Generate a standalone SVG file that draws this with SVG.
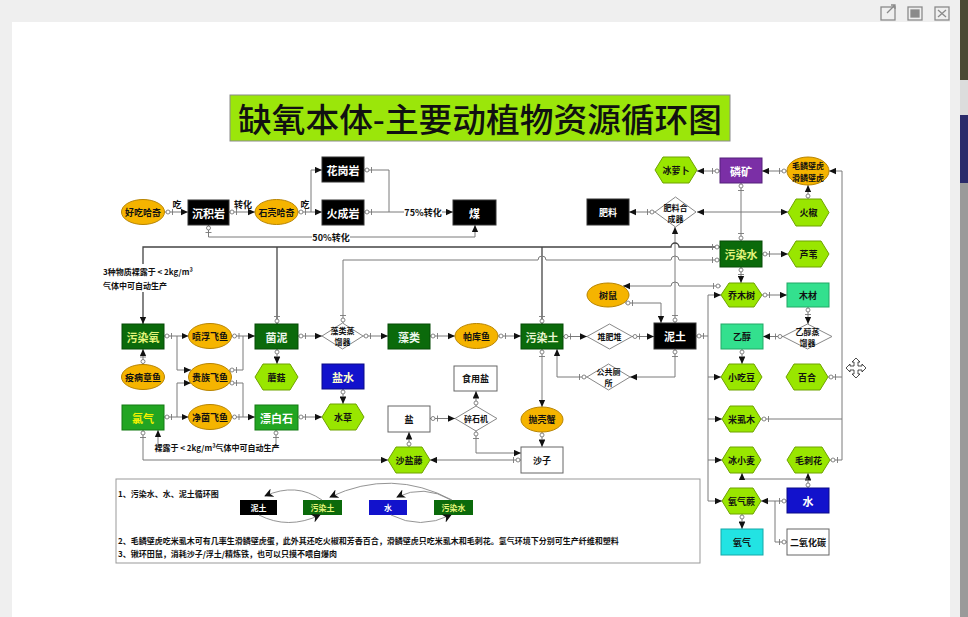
<svg xmlns="http://www.w3.org/2000/svg" width="968" height="617" viewBox="0 0 968 617">
<style>
text{font-family:"Noto Sans CJK SC","Noto Sans",sans-serif;font-weight:700;text-anchor:middle;dominant-baseline:central}
.l{font-size:11px}.s{font-size:9px}.xs{font-size:8px}
.blk{fill:#000;stroke:#333}
.dg{fill:#0b6a0b;stroke:#064a06}
.bg{fill:#22a522;stroke:#137a13}
.pur{fill:#7b2fa6;stroke:#55207a}
.blu{fill:#1212cc;stroke:#0a0a88}
.spr{fill:#33e08e;stroke:#22a866}
.cy{fill:#22e3e3;stroke:#14a8a8}
.wh{fill:#fff;stroke:#666}
.or{fill:#f5b400;stroke:#b88400}
.hx{fill:#99e600;stroke:#6fa300}
.dm{fill:#fff;stroke:#888}
.w{fill:#fff}.k{fill:#111}.y{fill:#e4f57a}.yy{fill:#f2f200}.ly{fill:#ffffcc}
#edges path{fill:none;stroke:#7a7a7a;stroke-width:1}
#edges path.a{marker-end:url(#arr)}
#edges path.s0{marker-start:url(#so)}
#edges path.e0{marker-end:url(#eo)}
#edges path.dk{stroke:#444;stroke-width:1.3}
</style>
<defs>
<marker id="arr" viewBox="0 0 10 10" refX="10" refY="5" markerWidth="7" markerHeight="7" markerUnits="userSpaceOnUse" orient="auto"><path d="M0,0.5 L10,5 L0,9.5 z" fill="#111"/></marker>
<marker id="so" viewBox="0 0 12 8" refX="0" refY="4" markerWidth="12" markerHeight="8" markerUnits="userSpaceOnUse" orient="auto"><circle cx="3" cy="4" r="2" fill="#fff" stroke="#777" stroke-width="0.9"/><path d="M7.5,1 V7" stroke="#777" stroke-width="0.9"/></marker>
<marker id="eo" viewBox="0 0 12 8" refX="12" refY="4" markerWidth="12" markerHeight="8" markerUnits="userSpaceOnUse" orient="auto"><circle cx="9" cy="4" r="2" fill="#fff" stroke="#777" stroke-width="0.9"/><path d="M4.5,1 V7" stroke="#777" stroke-width="0.9"/></marker>
<marker id="la" viewBox="0 0 10 10" refX="9" refY="5" markerWidth="9" markerHeight="9" markerUnits="userSpaceOnUse" orient="auto"><path d="M0,0 L10,5 L0,10 L3,5 z" fill="#111"/></marker>
</defs>

<!-- window frame -->
<rect x="0" y="0" width="968" height="617" fill="#efefef"/>
<rect x="12" y="22" width="938" height="595" fill="#fff"/>
<rect x="960" y="0" width="8" height="80" fill="#4b4a33"/>
<rect x="960" y="80" width="8" height="35" fill="#dcdcdc"/>
<rect x="960" y="115" width="8" height="68" fill="#2a2a6a"/>
<rect x="960" y="183" width="8" height="434" fill="#9a9a9a"/>
<g fill="none" stroke="#8a8a8a" stroke-width="1.3">
<rect x="881" y="7" width="14" height="13"/><path d="M887,13 L895,5 M891,5 H895 V9"/>
<rect x="908" y="7" width="14" height="13"/><rect x="911" y="10" width="8" height="7" fill="#8a8a8a"/>
<rect x="935" y="7" width="14" height="13"/><path d="M938,10 L946,17 M946,10 L938,17"/>
</g>
<polygon points="856,358 860,362 858,362 858,366 862,366 862,364 866,368 862,372 862,370 858,370 858,374 860,374 856,378 852,374 854,374 854,370 850,370 850,372 846,368 850,364 850,366 854,366 854,362 852,362" fill="#fff" stroke="#222" stroke-width="0.8"/>

<!-- title -->
<g id="title">
<rect x="230" y="95" width="500" height="46" fill="#9be60a" stroke="#8a8a8a"/>
<text x="480" y="118" style="font-size:33px;font-weight:500;fill:#111" textLength="484" lengthAdjust="spacingAndGlyphs">缺氧本体-主要动植物资源循环图</text>
</g>

<g id="edges">
<path class="a s0" d="M165,212 H188"/>
<path class="a s0" d="M229,212 H255"/>
<path class="a s0" d="M298,212 H322"/>
<path class="a" d="M311,212 V170 H322"/>
<path class="a s0" d="M364,212 H453"/>
<path class="s0" d="M364,170 H389 V212"/>
<path class="a s0" d="M208.5,225 V237 H475 V225"/>
<path class="a s0" d="M787,171 H762"/>
<path class="a s0" d="M720,171 H697"/>
<path class="s0 e0" d="M741,183 V241"/>
<path class="a" d="M741,212 H697"/>
<path class="a" d="M741,212 H788"/>
<path class="a s0" d="M655,212 H629"/>
<path class="a s0" d="M808,199 V185"/>
<path class="a s0" d="M675,323 V227"/>
<path class="a s0" d="M762,254 H788"/>
<path class="a s0" d="M741,267 V283"/>
<path class="a s0 dk" d="M720,247 H679 A4,4 0 0 0 671,247 H143 V324"/>
<path class="s0 dk" d="M277,324 V247"/>
<path class="s0 dk" d="M542,324 V247"/>
<path class="s0 e0" d="M720,260 H679 A4,4 0 0 0 671,260 H546 A4,4 0 0 0 538,260 H343 V323"/>
<path class="a s0" d="M721,286 H679 A4,4 0 0 0 671,286 H623"/>
<path class="a s0" d="M625,303 H661 V323"/>
<path class="a s0" d="M762,295 H787"/>
<path class="a s0" d="M808,307 V324"/>
<path class="a s0" d="M783,336.5 H763"/>
<path class="a s0" d="M742,349 V364"/>
<path class="a s0" d="M563,336.5 H587"/>
<path class="a s0" d="M632,336.5 H654"/>
<path class="a s0" d="M696,336 H708 V295 H721"/>
<path d="M708,336 V501"/>
<path class="a" d="M708,377 H721"/>
<path class="a" d="M708,419 H722"/>
<path class="a" d="M708,460 H722"/>
<path class="a" d="M708,501 H722"/>
<path class="a s0" d="M675,349 V377 H630"/>
<path class="a s0" d="M587,377 H557 V349"/>
<path class="a s0" d="M542,349 V407"/>
<path class="a s0" d="M542,432 V447"/>
<path class="a s0" d="M521,460 H430"/>
<path class="a s0" d="M476,431 V453 H521"/>
<path class="a s0" d="M430,418.5 H455"/>
<path class="a s0" d="M476,406 V391"/>
<path class="a s0" d="M409,447 V432"/>
<path class="a s0" d="M143,430 V460 H388"/>
<path class="a s0" d="M276,430 V447 H158 V430"/>
<path class="a s0" d="M298,417 H322"/>
<path class="a s0" d="M343,389 V404"/>
<path class="a s0" d="M277,349 V364"/>
<path class="a s0" d="M298,336 H322"/>
<path class="a s0" d="M363,336 H388"/>
<path class="a s0" d="M430,336 H455"/>
<path class="a s0" d="M498,336 H521"/>
<path class="a s0" d="M164,336 H188.5"/>
<path class="a" d="M177,336 V370 H191"/>
<path class="a s0" d="M164,417 H188.5"/>
<path class="a" d="M177,417 V383 H191"/>
<path class="a s0" d="M231.5,336 H255"/>
<path class="s0" d="M229,370 H243 V336"/>
<path class="a s0" d="M231.5,417 H255"/>
<path class="s0" d="M229,383 H243 V417"/>
<path class="a s0" d="M143,364.5 V349"/>
<path class="a s0" d="M808,488 V473"/>
<path class="a" d="M808,479 H742 V473"/>
<path class="a s0" d="M787,501 H761"/>
<path class="s0" d="M787,542 H775 V501"/>
<path class="a s0" d="M742,514 V529"/>
<path class="s0" d="M761,419 H842"/>
<path class="s0" d="M828,377 H842"/>
<path class="a s0" d="M830,460 H842 V171 H829"/>
</g>

<g id="edge-labels">
<text class="s" x="177" y="204" fill="#111">吃</text>
<text class="s" x="243" y="204" fill="#111">转化</text>
<text class="s" x="305" y="204" fill="#111">吃</text>
<rect x="404" y="206" width="38" height="12" fill="#fff"/>
<text class="s" x="423" y="212" fill="#111">75%转化</text>
<rect x="312" y="231" width="38" height="12" fill="#fff"/>
<text class="s" x="331" y="237" fill="#111">50%转化</text>
<rect x="102" y="264" width="80" height="28" fill="#fff"/>
<text class="xs" x="103" y="271" fill="#111" style="text-anchor:start">3种物质裸露于 &lt; 2kg/m³</text>
<text class="xs" x="103" y="285" fill="#111" style="text-anchor:start">气体中可自动生产</text>
<rect x="160" y="441" width="114" height="12" fill="#fff"/>
<text class="xs" x="217" y="447" fill="#111">裸露于 &lt; 2kg/m³气体中可自动生产</text>
</g>

<!-- rect nodes -->
<g id="n-huagangyan"><rect class="blk" x="322" y="157" width="42" height="25"/><text class="l w" x="343" y="170">花岗岩</text></g>
<g id="n-chenjiyan"><rect class="blk" x="188" y="200" width="41" height="25"/><text class="l w" x="208.5" y="212.5">沉积岩</text></g>
<g id="n-huochengyan"><rect class="blk" x="322" y="200" width="42" height="25"/><text class="l w" x="343" y="212.5">火成岩</text></g>
<g id="n-mei"><rect class="blk" x="453" y="200" width="43" height="25"/><text class="l w" x="474.5" y="212.5">煤</text></g>
<g id="n-feiliao"><rect class="blk" x="587" y="199" width="42" height="26"/><text class="s w" x="608" y="212">肥料</text></g>
<g id="n-linkuang"><rect class="pur" x="720" y="158" width="42" height="25"/><text class="l w" x="741" y="170.5">磷矿</text></g>
<g id="n-wuranshui"><rect class="dg" x="720" y="241" width="42" height="26"/><text class="l y" x="741" y="254">污染水</text></g>
<g id="n-mucai"><rect class="spr" x="787" y="283" width="42" height="24"/><text class="s k" x="808" y="295">木材</text></g>
<g id="n-yichun"><rect class="spr" x="721" y="324" width="42" height="25"/><text class="s k" x="742" y="336.5">乙醇</text></g>
<g id="n-nitu"><rect class="blk" x="654" y="323" width="42" height="26"/><text class="l w" x="675" y="336">泥土</text></g>
<g id="n-wuranyang"><rect class="dg" x="122" y="324" width="42" height="25"/><text class="l y" x="143" y="336.5">污染氧</text></g>
<g id="n-junni"><rect class="dg" x="255" y="324" width="43" height="25"/><text class="l" x="276.5" y="336.5" fill="#eef8ee">菌泥</text></g>
<g id="n-zaolei"><rect class="dg" x="388" y="324" width="42" height="25"/><text class="l" x="409" y="336.5" fill="#eef8ee">藻类</text></g>
<g id="n-wurantu"><rect class="dg" x="521" y="324" width="42" height="25"/><text class="l" x="542" y="336.5" fill="#e8f5d0">污染土</text></g>
<g id="n-yanshui"><rect class="blu" x="322" y="364" width="42" height="25"/><text class="l ly" x="343" y="376.5">盐水</text></g>
<g id="n-shiyongyan"><rect class="wh" x="454" y="366" width="43" height="25"/><text class="s k" x="475.5" y="378.5">食用盐</text></g>
<g id="n-luqi"><rect class="bg" x="122" y="405" width="42" height="25"/><text class="l yy" x="143" y="417.5">氯气</text></g>
<g id="n-piaobaishi"><rect class="bg" x="255" y="405" width="43" height="25"/><text class="l w" x="276.5" y="417.5">漂白石</text></g>
<g id="n-yan"><rect class="wh" x="388" y="406" width="42" height="26"/><text class="s k" x="409" y="419">盐</text></g>
<g id="n-shazi"><rect class="wh" x="521" y="447" width="42" height="26"/><text class="s k" x="542" y="460">沙子</text></g>
<g id="n-shui"><rect class="blu" x="787" y="488" width="42" height="25"/><text class="l w" x="808" y="500.5">水</text></g>
<g id="n-yangqi"><rect class="cy" x="721" y="529" width="42" height="26"/><text class="s k" x="742" y="542">氧气</text></g>
<g id="n-eryanghuatan"><rect class="wh" x="787" y="529" width="42" height="26"/><text class="s k" x="808" y="542">二氧化碳</text></g>

<!-- ellipse nodes -->
<g id="n-haochihaqi"><ellipse class="or" cx="143" cy="212" rx="21.5" ry="12.5"/><text class="s k" x="143" y="212">好吃哈奇</text></g>
<g id="n-shikehaqi"><ellipse class="or" cx="276.5" cy="212" rx="21.5" ry="12.5"/><text class="s k" x="276.5" y="212">石壳哈奇</text></g>
<g id="n-bihu"><ellipse class="or" cx="808" cy="171" rx="21" ry="14"/><text class="xs k" x="808" y="165">毛鳞壁虎</text><text class="xs k" x="808" y="177">滑鳞壁虎</text></g>
<g id="n-shushu"><ellipse class="or" cx="608" cy="295" rx="21" ry="12"/><text class="s k" x="608" y="295">树鼠</text></g>
<g id="n-penfu"><ellipse class="or" cx="210" cy="336" rx="21.5" ry="12.5"/><text class="s k" x="210" y="336">喷浮飞鱼</text></g>
<g id="n-yibing"><ellipse class="or" cx="143" cy="377" rx="21.5" ry="12.5"/><text class="s k" x="143" y="377">疫病章鱼</text></g>
<g id="n-guizu"><ellipse class="or" cx="210" cy="377" rx="21.5" ry="13.5"/><text class="s k" x="210" y="377">贵族飞鱼</text></g>
<g id="n-jingjun"><ellipse class="or" cx="210" cy="417" rx="21.5" ry="12.5"/><text class="s k" x="210" y="417">净菌飞鱼</text></g>
<g id="n-pakuyu"><ellipse class="or" cx="476.5" cy="336" rx="21.5" ry="12.5"/><text class="s k" x="476.5" y="336">帕库鱼</text></g>
<g id="n-paokexie"><ellipse class="or" cx="542" cy="419.5" rx="21" ry="12.5"/><text class="s k" x="542" y="419.5">抛壳蟹</text></g>

<!-- hexagon nodes -->
<g id="n-binglobo"><polygon class="hx" points="655,170 663,157 689,157 697,170 689,183 663,183"/><text class="s k" x="676" y="170">冰萝卜</text></g>
<g id="n-huojiao"><polygon class="hx" points="788,212.5 796,199 821,199 829,212.5 821,226 796,226"/><text class="s k" x="808.5" y="212.5">火椒</text></g>
<g id="n-luwei"><polygon class="hx" points="788,254 796,241 821,241 829,254 821,267 796,267"/><text class="s k" x="808.5" y="254">芦苇</text></g>
<g id="n-qiaomushu"><polygon class="hx" points="721,295 729,283 754,283 762,295 754,307 729,307"/><text class="s k" x="741.5" y="295">乔木树</text></g>
<g id="n-xiaochidou"><polygon class="hx" points="721,377 729,364 754,364 762,377 754,390 729,390"/><text class="s k" x="741.5" y="377">小吃豆</text></g>
<g id="n-baihe"><polygon class="hx" points="786,377 794,364 820,364 828,377 820,390 794,390"/><text class="s k" x="807" y="377">百合</text></g>
<g id="n-mogu"><polygon class="hx" points="255,377 263,364 290,364 298,377 290,390 263,390"/><text class="s k" x="276.5" y="377">蘑菇</text></g>
<g id="n-shuicao"><polygon class="hx" points="322,417 330,404 356,404 364,417 356,430 330,430"/><text class="s k" x="343" y="417">水草</text></g>
<g id="n-shayanteng"><polygon class="hx" points="388,460 396,447 422,447 430,460 422,473 396,473"/><text class="s k" x="409" y="460">沙盐藤</text></g>
<g id="n-mishimu"><polygon class="hx" points="722,419 730,406 753,406 761,419 753,432 730,432"/><text class="s k" x="741.5" y="419">米虱木</text></g>
<g id="n-bingxiaomai"><polygon class="hx" points="722,460 730,447 753,447 761,460 753,473 730,473"/><text class="s k" x="741.5" y="460">冰小麦</text></g>
<g id="n-maocihua"><polygon class="hx" points="787,460 795,447 822,447 830,460 822,473 795,473"/><text class="s k" x="808.5" y="460">毛刺花</text></g>
<g id="n-yangqijue"><polygon class="hx" points="722,501 730,488 753,488 761,501 753,514 730,514"/><text class="s k" x="741.5" y="501">氧气蕨</text></g>

<!-- diamond nodes -->
<g id="n-feiliaohechengqi"><polygon class="dm" points="655,212 675.5,197 696,212 675.5,227"/><text class="xs k" x="675.5" y="207">肥料合</text><text class="xs k" x="675.5" y="218">成器</text></g>
<g id="n-yichunzhengliuqi"><polygon class="dm" points="783,336.5 807.5,324 832,336.5 807.5,349"/><text class="xs k" x="807.5" y="331">乙醇蒸</text><text class="xs k" x="807.5" y="342">馏器</text></g>
<g id="n-duifeidui"><polygon class="dm" points="587,336.5 609.5,324 632,336.5 609.5,349"/><text class="xs k" x="609.5" y="336.5">堆肥堆</text></g>
<g id="n-gonggongcesuo"><polygon class="dm" points="587,377 608.5,364 630,377 608.5,390"/><text class="xs k" x="608.5" y="371.5">公共厕</text><text class="xs k" x="608.5" y="382.5">所</text></g>
<g id="n-zaoleizhengliuqi"><polygon class="dm" points="322,336 342.5,323 363,336 342.5,349"/><text class="xs k" x="342.5" y="330.5">藻类蒸</text><text class="xs k" x="342.5" y="341.5">馏器</text></g>
<g id="n-suishiji"><polygon class="dm" points="455,418.5 476,406 497,418.5 476,431"/><text class="xs k" x="476" y="418.5">碎石机</text></g>

<!-- legend -->
<g id="legend">
<rect x="116" y="479" width="584" height="84" fill="#fff" stroke="#999"/>
<text class="xs k" x="118" y="493" style="text-anchor:start">1、污染水、水、泥土循环图</text>
<rect x="240" y="500" width="37" height="15" fill="#000"/><text class="xs w" x="258.5" y="507.5">泥土</text>
<rect x="303" y="500" width="39" height="15" fill="#0b6a0b"/><text class="xs y" x="322.5" y="507.5">污染土</text>
<rect x="369" y="500" width="38" height="15" fill="#1212cc"/><text class="xs w" x="388" y="507.5">水</text>
<rect x="434" y="500" width="39" height="15" fill="#0b6a0b"/><text class="xs y" x="453.5" y="507.5">污染水</text>
<g fill="none" stroke="#888" stroke-width="0.9" marker-end="url(#la)">
<path d="M322,500 Q296,482 265,496"/>
<path d="M452,500 Q392,468 330,497"/>
<path d="M451,500 Q424,484 397,497"/>
<path d="M259,515 Q288,530 320,515"/>
<path d="M391,515 Q420,530 451,515"/>
</g>
<text class="xs k" x="118" y="540" style="text-anchor:start">2、毛鳞壁虎吃米虱木可有几率生滑鳞壁虎蛋，此外其还吃火椒和芳香百合，滑鳞壁虎只吃米虱木和毛刺花。氢气环境下分别可生产纤维和塑料</text>
<text class="xs k" x="118" y="553" style="text-anchor:start">3、锹环田鼠，消耗沙子/浮土/精炼铁，也可以只摸不喂自爆肉</text>
</g>
</svg>
